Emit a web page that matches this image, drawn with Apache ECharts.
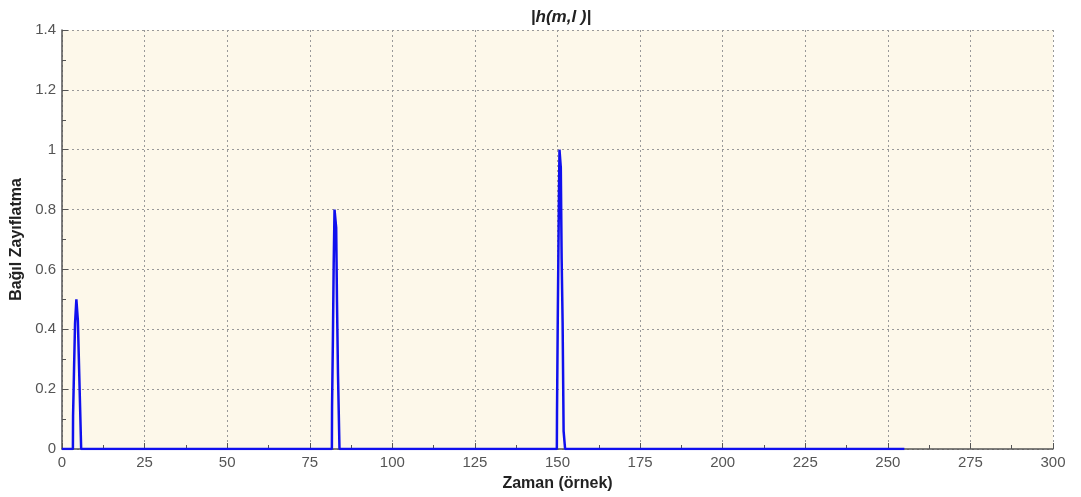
<!DOCTYPE html>
<html>
<head>
<meta charset="utf-8">
<script src="https://cdn.jsdelivr.net/npm/echarts@6/dist/echarts.min.js"></script>
<style>
  html, body { margin: 0; padding: 0; background: #fff; }
  #chart { width: 1081px; height: 497px; }
</style>
</head>
<body>
<div id="chart"></div>
<script>
// x ekseni etiketleri / y ekseni etiketleri
var xTicks = [0, 25, 50, 75, 100, 125, 150, 175, 200, 225, 250, 275, 300];
var yTicks = [0, 0.2, 0.4, 0.6, 0.8, 1, 1.2, 1.4];

// tepe 1 (~5. örnek)
var peak1X = [3.3, 3.35, 3.6, 3.65, 3.9, 3.95, 4.3, 4.35, 4.75, 4.8, 5.1, 5.15, 5.45, 5.5, 5.8];
var peak1Y = [0, 0.11, 0.11, 0.27, 0.27, 0.42, 0.42, 0.5, 0.5, 0.43, 0.43, 0.28, 0.28, 0.13, 0];
// tepe 2 (~83. örnek)
var peak2X = [81.7, 81.75, 81.95, 82.0, 82.2, 82.25, 82.45, 82.5, 82.9, 83.0, 83.2, 83.25, 83.5, 83.55, 83.8, 84.0];
var peak2Y = [0, 0.14, 0.14, 0.36, 0.36, 0.62, 0.62, 0.8, 0.8, 0.74, 0.74, 0.49, 0.49, 0.25, 0.25, 0];
// tepe 3 (~151. örnek)
var peak3X = [149.8, 149.85, 150.05, 150.1, 150.3, 150.45, 150.6, 150.9, 151.0, 151.2, 151.25, 151.5, 151.55, 151.8, 151.85, 152.1, 152.3];
var peak3Y = [0, 0.12, 0.12, 0.46, 0.46, 0.86, 1.0, 1.0, 0.94, 0.94, 0.64, 0.64, 0.42, 0.42, 0.06, 0.06, 0];
var lastX = 255;

var lineData = [[0, 0]];
[[peak1X, peak1Y], [peak2X, peak2Y], [peak3X, peak3Y]].forEach(function(p) {
  for (var i = 0; i < p[0].length; i++) {
    lineData.push([p[0][i], p[1][i]]);
  }
});
lineData.push([lastX, 0]);

var myChart = echarts.init(document.getElementById('chart'));
var axisFont = { color: '#555', fontSize: 15, fontFamily: 'Liberation Sans, Arial, sans-serif' };

myChart.setOption({
  backgroundColor: '#ffffff',
  animation: false,
  title: {
    text: '|h(m,l )|',
    left: 556,
    textAlign: 'center',
    top: 4,
    textStyle: { fontSize: 17, fontWeight: 'bold', fontStyle: 'italic', color: '#222', fontFamily: 'Liberation Sans, Arial, sans-serif' }
  },
  grid: {
    left: 62, right: 28, top: 30, bottom: 42,
    show: true,
    backgroundColor: '#fdf8ea',
    borderWidth: 0
  },
  xAxis: {
    type: 'value',
    min: 0, max: 300, interval: 25,
    name: 'Zaman (örnek)',
    nameLocation: 'middle',
    nameGap: 27,
    nameTextStyle: { fontSize: 16, fontWeight: 'bold', color: '#222', fontFamily: 'Liberation Sans, Arial, sans-serif' },
    axisLine: { show: true, lineStyle: { color: '#555', width: 1.5 } },
    axisTick: { show: true, inside: true, length: 6, lineStyle: { color: '#555' } },
    minorTick: { show: true, splitNumber: 2, length: 4, lineStyle: { color: '#555' } },
    axisLabel: Object.assign({ margin: 6, customValues: xTicks }, axisFont),
    splitLine: { show: true, lineStyle: { color: '#999', type: [2, 3], width: 1 } }
  },
  yAxis: {
    type: 'value',
    min: 0, max: 1.4, interval: 0.2,
    name: 'Bağıl Zayıflatma',
    nameLocation: 'middle',
    nameGap: 36,
    nameTextStyle: { fontSize: 16, fontWeight: 'bold', color: '#222', fontFamily: 'Liberation Sans, Arial, sans-serif' },
    axisLine: { show: true, lineStyle: { color: '#555', width: 1.5 } },
    axisTick: { show: true, inside: true, length: 6, lineStyle: { color: '#555' } },
    minorTick: { show: true, splitNumber: 2, length: 4, lineStyle: { color: '#555' } },
    axisLabel: Object.assign({ margin: 6, formatter: function(v) { return String(Math.round(v * 10) / 10); } }, axisFont),
    splitLine: { show: true, lineStyle: { color: '#999', type: [2, 3], width: 1 } }
  },
  series: [{
    type: 'line',
    data: lineData,
    showSymbol: false,
    lineStyle: { color: '#1010ee', width: 2.5 },
    z: 5
  }]
});
</script>
</body>
</html>
